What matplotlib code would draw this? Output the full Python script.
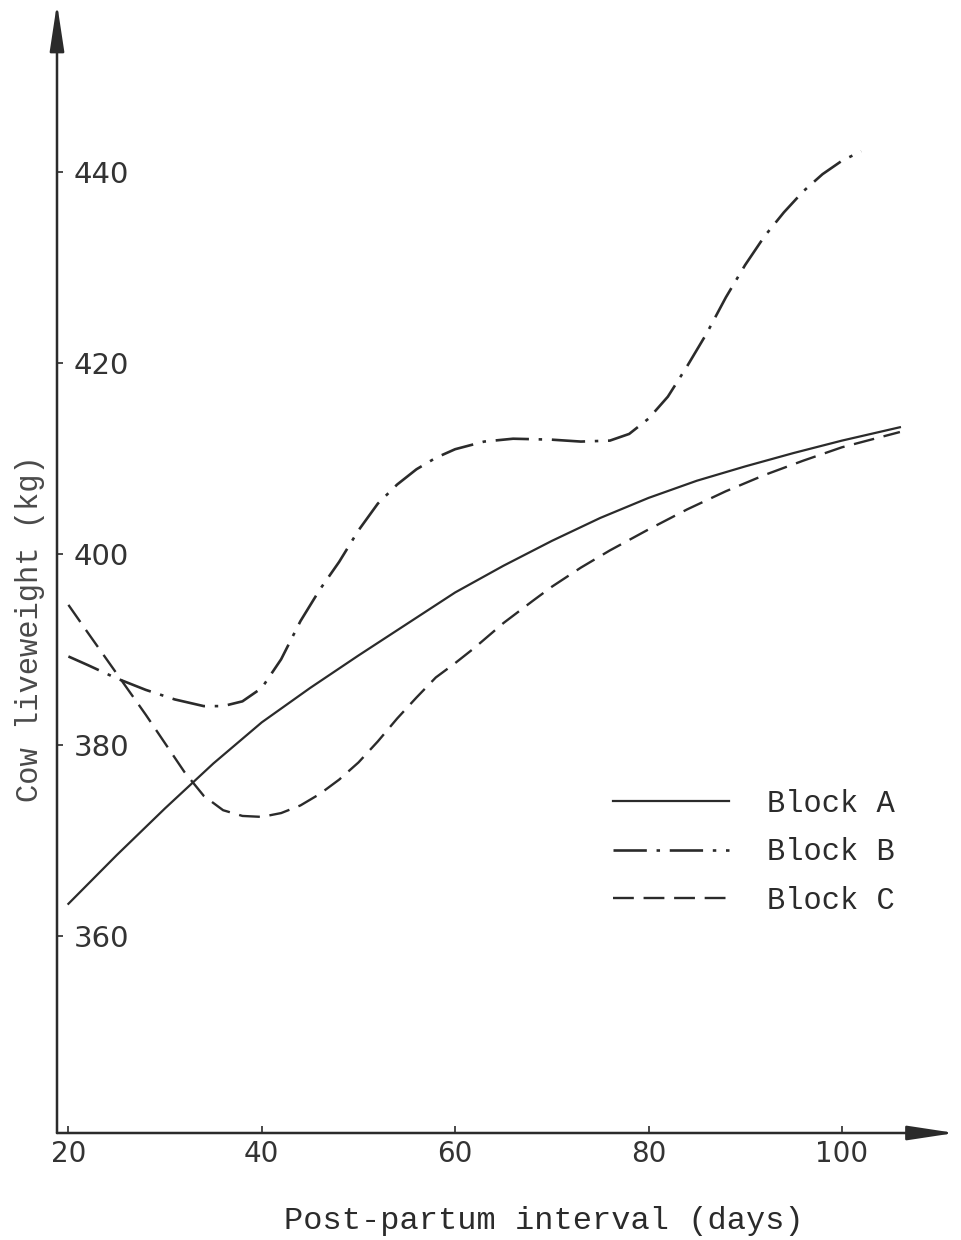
import matplotlib
matplotlib.use("Agg")
import matplotlib.pyplot as plt

# values (post-partum day, liveweight kg)
days_a = [20, 25, 30, 35, 40, 45, 50, 55, 60, 65, 70, 75, 80, 85, 90, 95, 100, 106]
block_a = [363.4, 368.5, 373.4, 378.1, 382.4, 386.0, 389.4, 392.7, 396.0, 398.8,
           401.4, 403.8, 405.9, 407.7, 409.2, 410.6, 411.9, 413.3]

days_b = [20, 22, 25, 28, 31, 34, 36, 38, 40, 42, 44, 46, 48, 50, 52, 54, 56, 58,
          60, 63, 66, 70, 73, 76, 78, 80, 82, 84, 86, 88, 90, 92, 94, 96, 98, 100, 102]
block_b = [389.3, 388.4, 387.0, 385.8, 384.8, 384.1, 384.1, 384.6, 386.0, 389.0,
           393.0, 396.3, 399.2, 402.5, 405.3, 407.3, 408.9, 410.1, 411.0, 411.8,
           412.1, 412.0, 411.8, 411.9, 412.6, 414.2, 416.5, 419.7, 423.1, 426.9,
           430.3, 433.3, 435.8, 438.0, 439.8, 441.2, 442.2]

days_c = [20, 22, 25, 28, 30, 32, 34, 36, 38, 40, 42, 44, 46, 48, 50, 52, 54, 56,
          58, 60, 62, 65, 68, 70, 73, 76, 80, 84, 88, 92, 96, 100, 106]
block_c = [394.7, 391.8, 387.5, 383.2, 380.2, 377.2, 374.7, 373.2, 372.6, 372.5,
           372.9, 373.7, 374.9, 376.4, 378.2, 380.4, 382.8, 385.0, 387.1, 388.6,
           390.2, 392.8, 395.1, 396.6, 398.6, 400.4, 402.6, 404.7, 406.6, 408.3,
           409.8, 411.2, 412.8]

x_ticks = [20, 40, 60, 80, 100]
y_ticks = [360, 380, 400, 420, 440]

ink = "#2b2b2b"
plt.rcParams["lines.scale_dashes"] = False

fig = plt.figure(figsize=(9.62, 12.40), dpi=100)
ax = fig.add_axes([57 / 962, 107 / 1240, 898 / 962, 1125 / 1240])

ax.plot(days_a, block_a, color=ink, lw=1.6, label="Block A")
ax.plot(days_b, block_b, color=ink, lw=1.9, dashes=[24, 7, 2.5, 7], label="Block B")
ax.plot(days_c, block_c, color=ink, lw=1.7, dashes=[15, 7], label="Block C")

ax.set_xlim(18.82, 111.7)
ax.set_ylim(339.4, 457.2)

for s in ax.spines.values():
    s.set_visible(False)

# axes drawn as arrows
arrow = dict(arrowstyle="-|>,head_length=1.45,head_width=0.22", color=ink,
             lw=1.8, shrinkA=0, shrinkB=0, mutation_scale=20)
ax.annotate("", xy=(0, 1.004), xytext=(0, 0), xycoords="axes fraction",
            textcoords="axes fraction", arrowprops=arrow, annotation_clip=False)
ax.annotate("", xy=(1, 0), xytext=(0, 0), xycoords="axes fraction",
            textcoords="axes fraction", arrowprops=arrow, annotation_clip=False)

ax.set_xticks(x_ticks)
ax.set_xticklabels([str(t) for t in x_ticks])
ax.set_yticks(y_ticks)
ax.set_yticklabels([str(t) for t in y_ticks])
ax.tick_params(axis="x", direction="in", length=5, width=1.2, color=ink,
               labelsize=20, labelcolor="#333333", pad=5)
ax.tick_params(axis="y", direction="in", length=4, width=1.2, color=ink,
               labelsize=21, labelcolor="#333333", pad=-12)
for lab in ax.get_yticklabels():
    lab.set_horizontalalignment("left")
for lab in ax.get_xticklabels() + ax.get_yticklabels():
    lab.set_fontfamily("DejaVu Sans")

mono = "Liberation Mono"
ax.set_xlabel("Post-partum interval (days)", fontsize=23, family=mono,
              color=ink, va="center")
ax.xaxis.set_label_coords(0.542, -0.078)
ax.set_ylabel("Cow liveweight (kg)", fontsize=22, family=mono,
              color="#4a4a4a", va="center", ha="center")
ax.yaxis.set_label_coords(-0.030, 0.448)

ax.legend(loc="upper left", bbox_to_anchor=(613 / 962, 1 - 789 / 1240),
          bbox_transform=fig.transFigure, frameon=False,
          prop={"family": mono, "size": 22}, handlelength=3.8,
          handletextpad=1.25, labelspacing=0.6, borderpad=0, borderaxespad=0,
          labelcolor=ink)

fig.savefig("out.png", dpi=100, facecolor="white")
